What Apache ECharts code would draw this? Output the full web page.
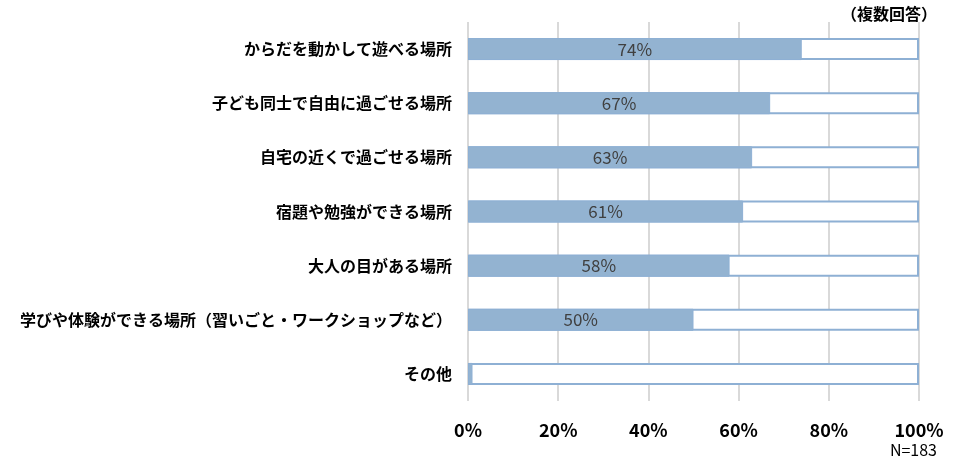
<!DOCTYPE html>
<html><head><meta charset="utf-8">
<script src="https://cdn.jsdelivr.net/npm/echarts@6/dist/echarts.min.js"></script>
<style>html,body{margin:0;background:#fff}#c{width:975px;height:470px}</style>
</head><body><div id="c"></div>
<script>
// 回答項目と割合（%）
var categories = ['からだを動かして遊べる場所', '子ども同士で自由に過ごせる場所', '自宅の近くで過ごせる場所', '宿題や勉強ができる場所', '大人の目がある場所', '学びや体験ができる場所（習いごと・ワークショップなど）', 'その他'];
var values = [74, 67, 63, 61, 58, 50, 1];
var fullValues = [100, 100, 100, 100, 100, 100, 100];
var xTicks = [0, 20, 40, 60, 80, 100];

var chart = echarts.init(document.getElementById('c'));
var font = "'Noto Sans CJK JP', sans-serif";
chart.setOption({
    animation: false,
    textStyle: { fontFamily: font },
    graphic: [
        { type: 'text', right: 38, top: 6, style: { text: '（複数回答）', font: "bold 16px 'Noto Sans CJK JP'", fill: '#000' } },
        { type: 'text', right: 38, top: 442, style: { text: 'N=183', font: "16px 'Noto Sans CJK JP'", fill: '#000' } }
    ],
    grid: { left: 468, right: 56, top: 22, bottom: 69 },
    xAxis: {
        type: 'value', min: xTicks[0], max: xTicks[xTicks.length - 1], interval: 20,
        axisLine: { show: false }, axisTick: { show: false },
        axisLabel: { formatter: '{value}%', fontSize: 18, fontWeight: 'bold', color: '#000', margin: 20 },
        splitLine: { lineStyle: { color: '#D9D9D9', width: 2 } }
    },
    yAxis: {
        type: 'category', data: categories, inverse: true,
        axisLine: { show: false }, axisTick: { show: false },
        axisLabel: { fontSize: 16, fontWeight: 'bold', color: '#000', margin: 16 }
    },
    series: [
        {
            type: 'bar', data: fullValues, barWidth: 22, barGap: '-100%', silent: true,
            itemStyle: { color: '#fff', borderColor: '#8EB0D4', borderWidth: 2 }
        },
        {
            type: 'bar', data: values, barWidth: 22,
            itemStyle: { color: '#93B3D1', borderColor: '#8EB0D4', borderWidth: 1 },
            label: {
                show: true, position: 'inside', fontSize: 17, color: '#404040',
                formatter: function (p) { return p.value >= 5 ? p.value + '%' : ''; }
            }
        }
    ]
});
</script></body></html>
